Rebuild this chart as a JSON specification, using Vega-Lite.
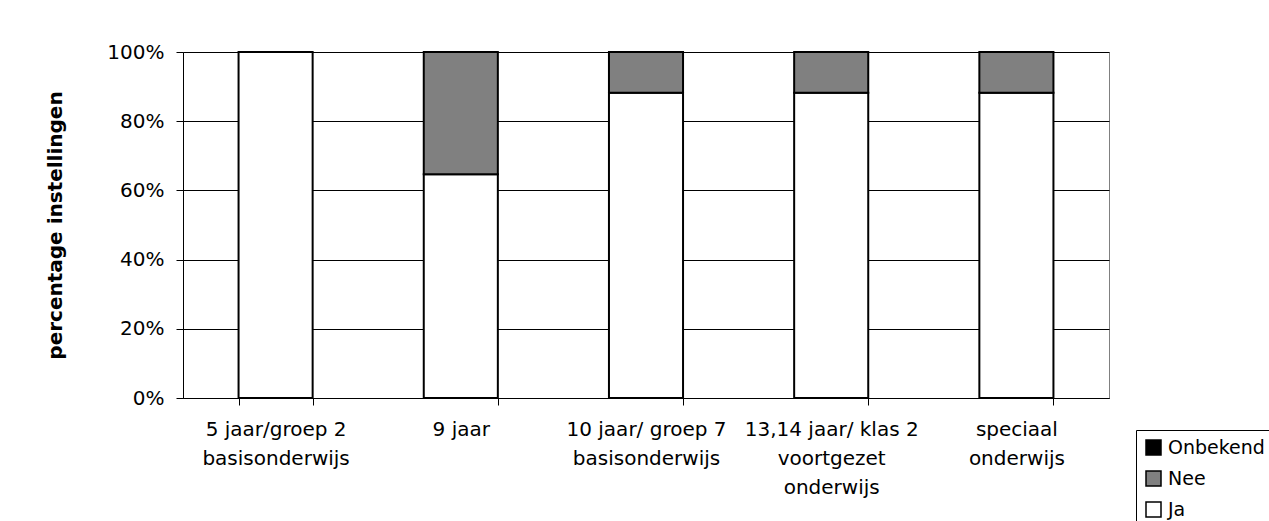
{
  "$schema": "https://vega.github.io/schema/vega-lite/v6.json",
  "autosize": {"type": "none"},
  "padding": {"left": 183, "top": 52, "right": 160, "bottom": 123},
  "width": 926,
  "height": 346,
  "background": "white",
  "config": {
    "font": "DejaVu Sans",
    "view": {"stroke": "#808080", "strokeWidth": 1}
  },
  "data": {
    "values": [
      {"groep": "5 jaar/groep 2|basisonderwijs", "antwoord": "Ja", "aandeel": 1.0, "volgorde": 1},
      {"groep": "9 jaar", "antwoord": "Ja", "aandeel": 0.647, "volgorde": 1},
      {"groep": "9 jaar", "antwoord": "Nee", "aandeel": 0.353, "volgorde": 2},
      {"groep": "10 jaar/ groep 7|basisonderwijs", "antwoord": "Ja", "aandeel": 0.882, "volgorde": 1},
      {"groep": "10 jaar/ groep 7|basisonderwijs", "antwoord": "Nee", "aandeel": 0.118, "volgorde": 2},
      {"groep": "13,14 jaar/ klas 2|voortgezet|onderwijs", "antwoord": "Ja", "aandeel": 0.882, "volgorde": 1},
      {"groep": "13,14 jaar/ klas 2|voortgezet|onderwijs", "antwoord": "Nee", "aandeel": 0.118, "volgorde": 2},
      {"groep": "speciaal|onderwijs", "antwoord": "Ja", "aandeel": 0.882, "volgorde": 1},
      {"groep": "speciaal|onderwijs", "antwoord": "Nee", "aandeel": 0.118, "volgorde": 2}
    ]
  },
  "mark": {"type": "bar", "stroke": "black", "strokeWidth": 2},
  "encoding": {
    "x": {
      "field": "groep",
      "type": "nominal",
      "sort": null,
      "scale": {"paddingInner": 0.6, "paddingOuter": 0.3},
      "axis": {
        "title": null,
        "labelAngle": 0,
        "labelExpr": "split(datum.label, '|')",
        "labelFontSize": 20,
        "labelColor": "black",
        "labelLineHeight": 29,
        "labelPadding": 14,
        "labelBaseline": "top",
        "labelLimit": 300,
        "tickBand": "extent",
        "tickSize": 7,
        "tickColor": "black",
        "domainColor": "black",
        "grid": false
      }
    },
    "y": {
      "field": "aandeel",
      "type": "quantitative",
      "stack": "zero",
      "scale": {"domain": [0, 1], "nice": false},
      "axis": {
        "title": "percentage instellingen",
        "titleFontSize": 20,
        "titleFontWeight": "bold",
        "titleColor": "black",
        "titlePadding": 41,
        "format": ".0%",
        "values": [0, 0.2, 0.4, 0.6, 0.8, 1],
        "labelFontSize": 20,
        "labelColor": "black",
        "labelPadding": 12,
        "tickSize": 7,
        "tickColor": "black",
        "domainColor": "black",
        "grid": true,
        "gridColor": "black",
        "gridWidth": 1
      }
    },
    "color": {
      "field": "antwoord",
      "type": "nominal",
      "scale": {"domain": ["Onbekend", "Nee", "Ja"], "range": ["black", "#808080", "white"]},
      "legend": {
        "title": null,
        "orient": "none",
        "legendX": 953,
        "legendY": 378,
        "strokeColor": "black",
        "padding": 8,
        "symbolType": "square",
        "symbolSize": 225,
        "symbolStrokeColor": "black",
        "symbolStrokeWidth": 1.5,
        "labelFontSize": 19,
        "labelColor": "black",
        "labelOffset": 5,
        "rowPadding": 10
      }
    },
    "order": {"field": "volgorde", "type": "quantitative", "sort": "ascending"}
  }
}
